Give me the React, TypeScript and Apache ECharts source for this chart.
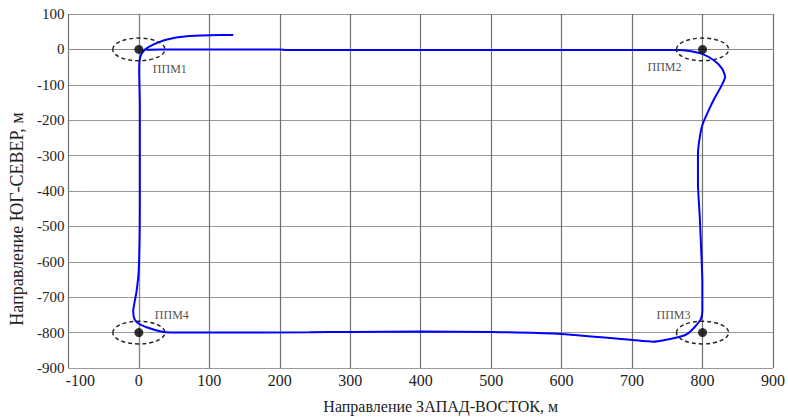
import React, { useEffect, useRef } from "react";
import * as echarts from "echarts";

// Trajectory (metres): west-east (x), south-north (y)
const trajX = [134, 101, 68, 40, 21, 9, 3.4, 1, 0.5, 1.4, 1.4, 0, -3.2, -8, -6, 0, 10, 30, 45, 100, 242, 300, 400, 500, 594, 697, 730, 767.6, 779, 788.6, 797.6, 799.7, 799.7, 798, 796, 793.5, 793.5, 796, 800, 808, 817, 826, 832, 828, 817, 801, 781.5, 763, 600, 400, 210, 200, 100, 30, 10];
const trajY = [41, 40, 37, 28, 14, 0, -14, -32, -64, -157, -434, -618, -683, -740, -763, -775, -784, -796, -800, -800, -799, -798, -797, -798, -803, -820, -826, -812, -803, -785, -762, -739, -656, -563, -471, -379, -295, -249, -212, -175, -138, -106, -78, -55, -32, -14, -4.6, -2, -2, -2, -2, 0, 0, 0, -1];

// Waypoints
const wpNames = ["ППМ1", "ППМ2", "ППМ3", "ППМ4"];
const wpX = [0, 800, 800, 0];
const wpY = [0, 0, -800, -800];

// Axis ticks
const xMin = -100, xMax = 900, xStep = 100;
const yMin = -900, yMax = 100, yStep = 100;

const xTitle = "Направление ЗАПАД-ВОСТОК, м";
const yTitle = "Направление ЮГ-СЕВЕР, м";

// styling (not data)
const LABEL_OFFSETS: [number, number][] = [[31, 20], [-38, 18], [-29, -18], [33, -18]];
const ELLIPSE_R = [37, 32];
const FONT = "Liberation Serif";

export default function App() {
  const ref = useRef<HTMLDivElement>(null);
  useEffect(() => {
    document.body.style.margin = "0";
    const chart = echarts.init(ref.current!, null, { renderer: "svg" });
    const line = trajX.map((x, i) => [x, trajY[i]]);
    const wps = wpX.map((x, i) => ({
      value: [x, wpY[i]],
      name: wpNames[i],
      label: { offset: LABEL_OFFSETS[i] },
    }));
    chart.setOption({
      animation: false,
      backgroundColor: "#fff",
      textStyle: { fontFamily: FONT },
      grid: { left: 67, right: 12, top: 14, bottom: 43.5, containLabel: false },
      xAxis: {
        type: "value",
        min: xMin,
        max: xMax,
        interval: xStep,
        name: xTitle,
        nameLocation: "middle",
        nameGap: 30,
        nameTextStyle: { fontFamily: FONT, fontSize: 16, color: "#222", padding: [0, 0, 0, 40] },
        axisLine: { show: true, lineStyle: { color: "#888", width: 1.2 } },
        axisTick: { show: true, inside: false, length: 3, lineStyle: { color: "#888" } },
        axisLabel: {
          fontFamily: FONT,
          fontSize: 16,
          color: "#222",
          margin: 4,
          formatter: (v: number) => (v === xMin ? "{a|" + v + "}" : String(v)),
          rich: { a: { fontFamily: FONT, fontSize: 16, color: "#222", padding: [0, 0, 0, 24] } },
        },
        splitLine: { show: true, lineStyle: { color: "#707070", width: 1.2 } },
      },
      yAxis: {
        type: "value",
        min: yMin,
        max: yMax,
        interval: yStep,
        name: yTitle,
        nameLocation: "middle",
        nameGap: 42,
        nameRotate: 90,
        nameTextStyle: { fontFamily: FONT, fontSize: 18, color: "#222", padding: [0, 56, 0, 0] },
        axisLine: { show: true, lineStyle: { color: "#888", width: 1.2 } },
        axisTick: { show: true, inside: false, length: 3, lineStyle: { color: "#888" } },
        axisLabel: { fontFamily: FONT, fontSize: 15, color: "#222", margin: 4 },
        splitLine: { show: true, lineStyle: { color: "#999", width: 1.2 } },
      },
      series: [
        {
          type: "line",
          data: line,
          showSymbol: false,
          smooth: 0.2,
          lineStyle: { color: "#0000ff", width: 2 },
          z: 3,
        },
        {
          type: "custom",
          data: wpX.map((x, i) => [x, wpY[i]]),
          renderItem: (params: any, api: any) => {
            const c = api.coord([api.value(0), api.value(1)]);
            const s = api.size([ELLIPSE_R[0], ELLIPSE_R[1]]);
            return {
              type: "ellipse",
              shape: { cx: c[0], cy: c[1], rx: s[0], ry: s[1] },
              style: { fill: "none", stroke: "#222", lineWidth: 1.4, lineDash: [4, 3] },
            };
          },
          z: 4,
        },
        {
          type: "scatter",
          data: wps,
          symbol: "circle",
          symbolSize: 9,
          itemStyle: { color: "#000" },
          label: {
            show: true,
            position: "inside",
            formatter: (p: any) => p.name,
            fontFamily: FONT,
            fontSize: 12,
            color: "#222",
          },
          z: 5,
        },
      ],
    });
    return () => chart.dispose();
  }, []);
  return <div ref={ref} style={{ width: 788, height: 419 }} />;
}
